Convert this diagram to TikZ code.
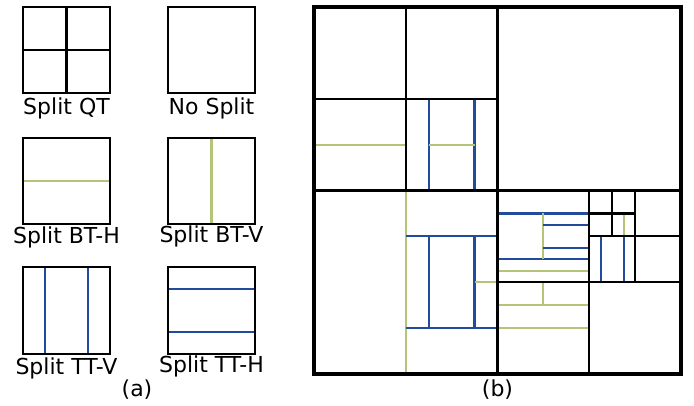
\documentclass[tikz,border=0pt]{standalone}
\usepackage{fontspec}
\setmainfont{DejaVu Sans}
\usepackage{tikz}
\definecolor{btgreen}{RGB}{180,196,120}
\definecolor{ttblue}{RGB}{35,75,155}

\begin{document}
\begin{tikzpicture}[x=1pt, y=-1pt,
    blk/.style={draw=black, line width=2.2pt},
    bt/.style={draw=btgreen, line width=2.2pt},
    tt/.style={draw=ttblue, line width=2.2pt},
    lbl/.style={anchor=base, inner sep=0pt, font=\fontsize{22}{24}\selectfont}]
    \useasboundingbox (0,0) rectangle (694,406);

    % (a) split types
    \draw[blk] (23,7) rectangle (110,93);
    \draw[blk] (66.5,7) -- (66.5,93);
    \draw[blk] (23,50) -- (110,50);
    \node[lbl] (lblqt) at (66.5,115) {Split QT};
    \draw[blk] (168,7) rectangle (255,93);
    \node[lbl] (lblno) at (211.5,115) {No Split};

    \draw[bt] (23,181) -- (110,181);
    \draw[blk] (23,138) rectangle (110,224);
    \node[lbl] (lblbth) at (66.5,244) {Split BT-H};
    \draw[bt] (211.5,138) -- (211.5,224);
    \draw[blk] (168,138) rectangle (255,224);
    \node[lbl] (lblbtv) at (211.5,243) {Split BT-V};

    \draw[tt] (44.75,267) -- (44.75,354);
    \draw[tt] (88.25,267) -- (88.25,354);
    \draw[blk] (23,267) rectangle (110,354);
    \node[lbl] (lblttv) at (66.5,374) {Split TT-V};
    \draw[tt] (168,288.75) -- (255,288.75);
    \draw[tt] (168,332.25) -- (255,332.25);
    \draw[blk] (168,267) rectangle (255,354);
    \node[lbl] (lbltth) at (211.5,372.5) {Split TT-H};

    \node[lbl] (capa) at (137,396) {(a)};
    \node[lbl] (capb) at (497.5,396) {(b)};

    % (b) partition, grid of 16 x 16
    \begin{scope}[shift={(314,7)}, x=22.9375pt, y=-22.9375pt]
        \draw[bt] (0,6) -- (4,6);
        \draw[tt] (5,4) -- (5,8);
        \draw[tt] (7,4) -- (7,8);
        \draw[bt] (5,6) -- (7,6);

        \draw[bt] (4,8) -- (4,16);
        \draw[tt] (4,10) -- (8,10);
        \draw[tt] (4,14) -- (8,14);
        \draw[tt] (5,10) -- (5,14);
        \draw[tt] (7,10) -- (7,14);
        \draw[bt] (7,12) -- (8,12);

        \draw[tt] (8,9) -- (12,9);
        \draw[tt] (8,11) -- (12,11);
        \draw[bt] (10,9) -- (10,11);
        \draw[tt] (10,9.5) -- (12,9.5);
        \draw[tt] (10,10.5) -- (12,10.5);
        \draw[bt] (8,11.5) -- (12,11.5);

        \draw[bt] (13.5,9) -- (13.5,10);
        \draw[tt] (12.5,10) -- (12.5,12);
        \draw[tt] (13.5,10) -- (13.5,12);

        \draw[bt] (8,13) -- (12,13);
        \draw[bt] (8,14) -- (12,14);
        \draw[bt] (10,12) -- (10,13);

        \draw[blk] (8,0) -- (8,16);
        \draw[blk] (0,8) -- (16,8);
        \draw[blk] (4,0) -- (4,8);
        \draw[blk] (0,4) -- (8,4);
        \draw[blk] (12,8) -- (12,16);
        \draw[blk] (8,12) -- (16,12);
        \draw[blk] (14,8) -- (14,12);
        \draw[blk] (12,10) -- (16,10);
        \draw[blk] (13,8) -- (13,10);
        \draw[blk] (12,9) -- (14,9);

        \draw[black, line width=3.6pt] (0,0) rectangle (16,16);
    \end{scope}
\end{tikzpicture}
\end{document}
